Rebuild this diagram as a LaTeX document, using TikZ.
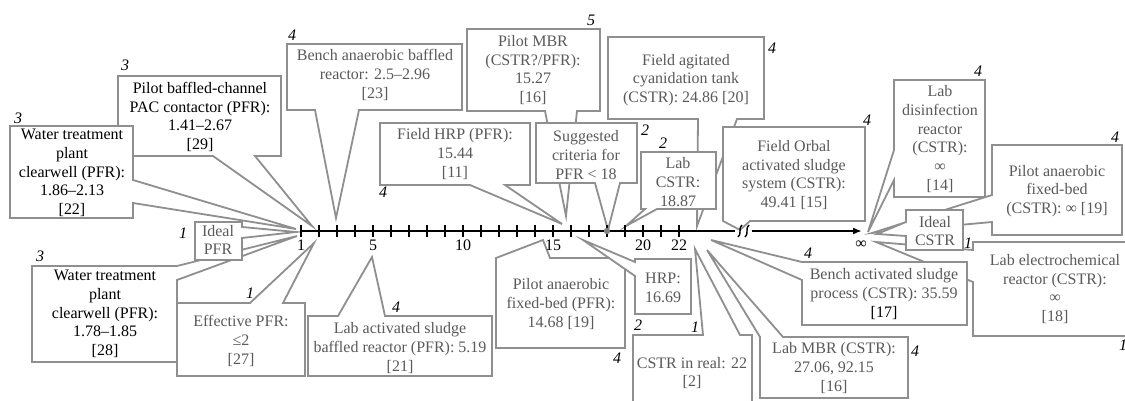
\documentclass[tikz,border=0pt]{standalone}
\usepackage{fontspec}
\setmainfont{Liberation Serif}
\usetikzlibrary{arrows.meta}
\definecolor{cgray}{HTML}{8F8F8F}
\definecolor{tgray}{HTML}{5A5A5A}
\tikzset{
  cbox/.style={draw=cgray, line width=1.8pt, fill=white, line join=miter},
  ctext/.style={text=tgray, align=center, font=\fontsize{16}{18.7}\selectfont, inner sep=0pt},
  btext/.style={ctext, text=black},
  numlab/.style={font=\fontsize{16}{18}\selectfont\itshape, inner sep=0pt},
  axlab/.style={font=\fontsize{16}{18}\selectfont, inner sep=0pt},
  axis/.style={line width=2.2pt, black},
}
\begin{document}
\begin{tikzpicture}[x=1pt,y=-1pt]
\useasboundingbox (0,0) rectangle (1125,401);
\clip (0,0) rectangle (1125,401);
% tips
\coordinate (tA) at (312,226);
\coordinate (tB) at (296,229);
\coordinate (tC) at (296,232);
\coordinate (tD) at (297,236);
\coordinate (tE) at (314,243);
\coordinate (tF) at (336,218);
\coordinate (tG) at (562,224);
\coordinate (tH) at (566,216);
\coordinate (tI) at (608,230);
\coordinate (tJ) at (697,226);
\coordinate (tK) at (626,226);
\coordinate (tL) at (740,230);
\coordinate (tM) at (868,232);
\coordinate (tN) at (872,233);
\coordinate (tO) at (877,234);
\coordinate (tP) at (876,242);
\coordinate (tQ) at (711,240);
\coordinate (tR) at (707,250);
\coordinate (tS) at (695,249);
\coordinate (tT) at (583,240);
\coordinate (tU) at (543,240);
\coordinate (tV) at (372,257);

% A: Pilot baffled-channel
\path[cbox] (118,76) -- (281,76) -- (281,156) -- (255,156) -- (tA) -- (213,156) -- (118,156) -- cycle;
\node[btext] (A) at (200,117) {Pilot baffled-channel\\PAC contactor (PFR):\\1.41--2.67\\{}[29]};
% B: Water treatment 1.86
\path[cbox] (10,126) -- (133,126) -- (133,180) -- (tB) -- (133,203) -- (133,218) -- (10,218) -- cycle;
\node[btext] (B) at (72,173) {Water treatment\\plant\\clearwell (PFR):\\1.86--2.13\\{}[22]};
% D: Water treatment 1.78
\path[cbox] (32,266) -- (177,266) -- (tD) -- (177,280) -- (177,362) -- (32,362) -- cycle;
\node[btext] (D) at (105,314) {Water treatment\\plant\\clearwell (PFR):\\1.78--1.85\\{}[28]};
% E: Effective PFR
\path[cbox] (177,303) -- (250,303) -- (tE) -- (283,303) -- (305,303) -- (305,376) -- (177,376) -- cycle;
\node[ctext] (E) at (241,341) {Effective PFR:\\≤2\\{}[27]};
% C: Ideal PFR
\path[cbox] (195,222) -- (242,222) -- (242,227) -- (tC) -- (242,238) -- (242,260) -- (195,260) -- cycle;
\node[ctext] (C) at (218,240) {Ideal\\PFR};
% F: Bench anaerobic
\path[cbox] (287,44) -- (462,44) -- (462,110) -- (359,110) -- (tF) -- (315,110) -- (287,110) -- cycle;
\node[ctext] (F) at (375,75) {Bench anaerobic baffled\\reactor: 2.5--2.96\\{}[23]};
% V: Lab activated sludge baffled
\path[cbox] (308,316) -- (338,316) -- (tV) -- (385,316) -- (492,316) -- (492,376) -- (308,376) -- cycle;
\node[ctext] (V) at (400,348) {Lab activated sludge\\baffled reactor (PFR): 5.19\\{}[21]};
% G: Field HRP
\path[cbox] (380,123) -- (530,123) -- (530,185) -- (505,185) -- (tG) -- (470,185) -- (380,185) -- cycle;
\node[ctext] (G) at (455,154) {Field HRP (PFR):\\15.44\\{}[11]};
% H: Pilot MBR
\path[cbox] (467,29) -- (600,29) -- (600,111) -- (577,111) -- (tH) -- (545,111) -- (467,111) -- cycle;
\node[ctext] (H) at (533,70) {Pilot MBR\\(CSTR?/PFR):\\15.27\\{}[16]};
% I: Suggested criteria
\path[cbox] (536,123) -- (637,123) -- (637,183) -- (620,183) -- (tI) -- (595,183) -- (536,183) -- cycle;
\node[ctext] (I) at (586,155) {Suggested\\criteria for\\PFR < 18};
% J: Field agitated
\path[cbox] (608,37) -- (764,37) -- (764,119) -- (737,119) -- (tJ) -- (698,119) -- (608,119) -- cycle;
\node[ctext] (J) at (686,80) {Field agitated\\cyanidation tank\\(CSTR): 24.86 [20]};
% K: Lab CSTR
\path[cbox] (641,152) -- (716,152) -- (716,209) -- (657,209) -- (tK) -- (645,209) -- (641,209) -- cycle;
\node[ctext] (K) at (678,182) {Lab\\CSTR:\\18.87};
% L: Field Orbal
\path[cbox] (723,127) -- (865,127) -- (865,221) -- (750,221) -- (tL) -- (723,221) -- cycle;
\node[ctext] (L) at (794,175) {Field Orbal\\activated sludge\\system (CSTR):\\49.41 [15]};
% U: Pilot anaerobic PFR
\path[cbox] (496,258) -- (tU) -- (550,258) -- (625,258) -- (625,348) -- (496,348) -- cycle;
\node[ctext] (U) at (561,304) {Pilot anaerobic\\fixed-bed (PFR):\\14.68 [19]};
% T: HRP
\path[cbox] (635,259) -- (691,259) -- (691,314) -- (635,314) -- (635,276) -- (tT) -- (635,262) -- cycle;
\node[ctext] (T) at (663,288) {HRP:\\16.69};
% S: CSTR in real
\path[cbox] (633,335) -- (703,335) -- (tS) -- (740,335) -- (752,335) -- (752,410) -- (633,410) -- cycle;
\node[ctext] (S) at (692,373) {CSTR in real: 22\\{}[2]};
% R: Lab MBR
\path[cbox] (760,337) -- (tR) -- (783,337) -- (908,337) -- (908,398) -- (760,398) -- cycle;
\node[ctext] (R) at (834,368) {Lab MBR (CSTR):\\27.06, 92.15\\{}[16]};
% P: Lab electrochemical
\path[cbox] (973,242) -- (1135,242) -- (1135,336) -- (973,336) -- (973,282) -- (tP) -- (973,250) -- cycle;
\node[ctext] (P) at (1055,289) {Lab electrochemical\\reactor (CSTR):\\∞\\{}[18]};
% Q: Bench activated sludge
\path[cbox] (802,262) -- (967,262) -- (967,325) -- (802,325) -- (802,280) -- (tQ) -- cycle;
\node[ctext] (Q) at (884,294) {Bench activated sludge\\process (CSTR): 35.59\\\textcolor{black}{[17]}};
% M: Lab disinfection
\path[cbox] (894,80) -- (985,80) -- (985,197) -- (894,197) -- (894,180) -- (tM) -- (894,150) -- cycle;
\node[ctext] (M) at (940,139) {Lab\\disinfection\\reactor\\(CSTR):\\∞\\{}[14]};
% N: Pilot anaerobic CSTR
\path[cbox] (992,145) -- (1122,145) -- (1122,235) -- (992,235) -- (992,222) -- (tN) -- (992,195) -- cycle;
\node[ctext] (N) at (1057,191) {Pilot anaerobic\\fixed-bed\\(CSTR): ∞ [19]};
% O: Ideal CSTR
\path[cbox] (906,210) -- (963,210) -- (963,250) -- (906,250) -- (906,236) -- (tO) -- (906,222) -- cycle;
\node[ctext] (O) at (935,231) {Ideal\\CSTR};

% number labels
\node[numlab] (nA) at (125,65) {3};
\node[numlab] (nB) at (18,118) {3};
\node[numlab] (nC) at (183,233) {1};
\node[numlab] (nD) at (40,256) {3};
\node[numlab] (nE) at (250,293) {1};
\node[numlab] (nF) at (292,35) {4};
\node[numlab] (nG) at (383,192) {4};
\node[numlab] (nH) at (591,20) {5};
\node[numlab] (nI) at (645,130) {2};
\node[numlab] (nJ) at (772,48) {4};
\node[numlab] (nK) at (663,143) {2};
\node[numlab] (nL) at (867,120) {4};
\node[numlab] (nM) at (978,71) {4};
\node[numlab] (nN) at (1115,137) {4};
\node[numlab] (nO) at (968,243) {1};
\node[numlab] (nP) at (1123,345) {1};
\node[numlab] (nQ) at (808,253) {4};
\node[numlab] (nR) at (915,351) {4};
\node[numlab] (nS) at (695,327) {1};
\node[numlab] (nT) at (638,325) {2};
\node[numlab] (nU) at (617,358) {4};
\node[numlab] (nV) at (396,307) {4};

% axis
\coordinate (a0) at (301,231);
\coordinate (a1) at (735,231);
\coordinate (a2) at (752,231);
\coordinate (ainf) at (862,231);
\draw[axis] (a0) -- (a1);
\foreach \n in {1,...,22} \draw[axis] ({301+18*(\n-1)},225) -- ({301+18*(\n-1)},237);
\fill[gray] (607,231) circle (3.2);
\draw[line width=1.4pt] (738,237) .. controls (742,235) and (738,227) .. (742,225);
\draw[line width=1.4pt] (745,237) .. controls (749,235) and (745,227) .. (749,225);
\draw[axis, -{Latex[length=9pt,width=7pt]}] (a2) -- (ainf);
\node[axlab] (l1) at (301,245) {1};
\node[axlab] (l5) at (373,245) {5};
\node[axlab] (l10) at (463,245) {10};
\node[axlab] (l15) at (553,245) {15};
\node[axlab] (l20) at (643,245) {20};
\node[axlab] (l22) at (679,245) {22};
\node[axlab] (linf) at (861,245) {∞};
\end{tikzpicture}
\end{document}
